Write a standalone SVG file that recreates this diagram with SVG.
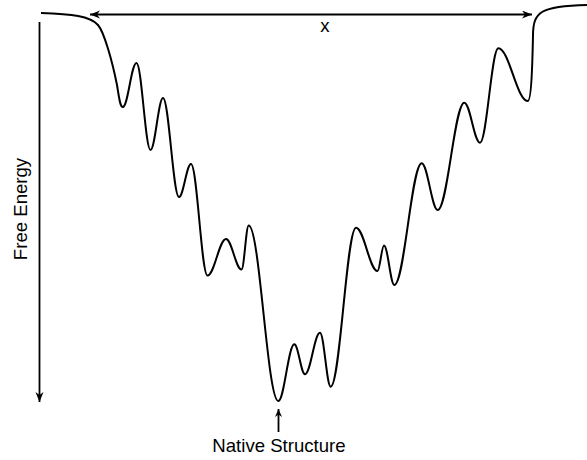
<svg xmlns="http://www.w3.org/2000/svg" width="587" height="460" viewBox="0 0 587 460">
<style>
.ln{fill:none;stroke:#000;stroke-width:2}
.ax{fill:none;stroke:#000;stroke-width:1.8}
.tx{font-family:"Liberation Sans",Arial,sans-serif;font-size:18.6px;fill:#000}
</style>
<defs>
<marker id="ah" markerUnits="userSpaceOnUse" markerWidth="11" markerHeight="9" refX="10" refY="4" orient="auto-start-reverse" viewBox="0 0 11 9">
<path d="M0,0 L10,4 L0,8 L3,4 z" fill="#000"/>
</marker>
<marker id="ahs" markerUnits="userSpaceOnUse" markerWidth="9" markerHeight="8" refX="8" refY="3.5" orient="auto" viewBox="0 0 9 8">
<path d="M0,0 L8,3.5 L0,7 L2.5,3.5 z" fill="#000"/>
</marker>
</defs>
<g id="connectors">
<line id="x-axis" class="ax" x1="90" y1="14.5" x2="532" y2="14.5" marker-start="url(#ah)" marker-end="url(#ah)"/>
<line id="energy-axis" class="ax" x1="39.5" y1="22" x2="39.5" y2="402" marker-end="url(#ah)"/>
<line id="native-arrow" class="ax" x1="278.5" y1="432" x2="278.5" y2="409" marker-end="url(#ahs)"/>
</g>
<g id="landscape">
<path class="ln" d="M41,13 C72,14 90,16 98,25 C104,32 112,60 117,85 C119,97 120,107 122.8,107 C128,107 131.3,63 136.5,63 C141.7,63 145.3,150 150.5,150 C155.1,150 158.4,98 163,98 C168.9,98 173.1,197 179,197 C183.4,197 186.6,164 191,164 C197.1,164 201.4,275.5 207.5,275.5 C214.3,275.5 219.2,239 226,239 C231.7,239 235.8,269.5 241.5,269.5 C244.2,269.5 246,225.5 248.7,225.5 C259.7,225.5 267.3,401 278.3,401 C284.2,401 288.4,344.3 294.3,344.3 C298.3,344.3 301,374.3 305,374.3 C310.6,374.3 314.4,332.7 320,332.7 C324,332.7 326.7,386.7 330.7,386.7 C340.1,386.7 346.6,227.7 356,227.7 C364,227.7 369.5,271 377.5,271 C379.9,271 381.6,245.5 384,245.5 C387.8,245.5 390.5,285 394.3,285 C404.4,285 411.6,163.3 421.7,163.3 C427.6,163.3 431.8,210 437.7,210 C447.5,210 454.5,102.7 464.3,102.7 C470.1,102.7 474.2,142.7 480,142.7 C486.8,142.7 491.5,48.3 498.3,48.3 C509.2,48.3 516.8,101 527.7,101 C531.5,101 532.5,60 533,35 C533.3,12 540,6 587,5"/>
</g>
<g id="label-x"><text class="tx" x="325" y="31.5" text-anchor="middle">x</text></g>
<g id="label-free-energy"><text class="tx" transform="translate(27,209) rotate(-90)" text-anchor="middle">Free Energy</text></g>
<g id="label-native"><text class="tx" x="279" y="452" text-anchor="middle">Native Structure</text></g>
</svg>
